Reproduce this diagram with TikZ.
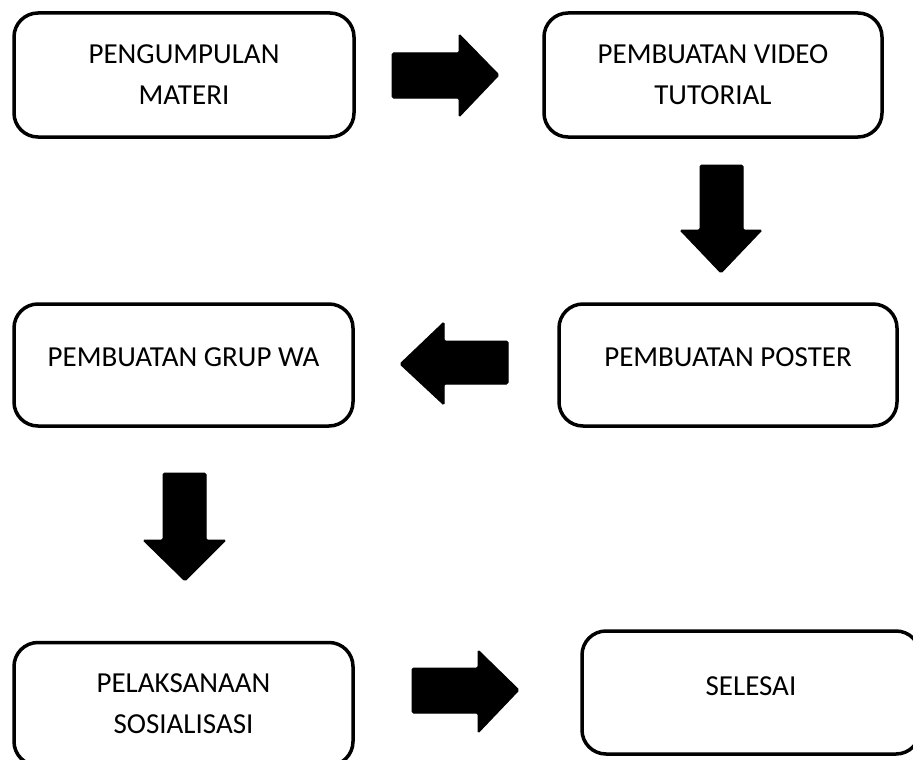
\documentclass[tikz,border=0pt]{standalone}
\usepackage{fontspec}
\setmainfont{Carlito}
\begin{document}
\begin{tikzpicture}[x=1pt,y=-1pt,
  box/.style={draw=black, line width=3.5pt, rounded corners=24pt, fill=white,
    align=center, inner sep=0pt, font=\fontsize{29}{41}\selectfont},
  blockarrow/.style={fill=black, draw=black, line width=1pt, rounded corners=1.5pt}]
\useasboundingbox (0,0) rectangle (913,760);
\node[box, minimum width=340pt, minimum height=124pt] (b1) at (184,75) {PENGUMPULAN\\MATERI};
\node[box, minimum width=338pt, minimum height=124pt] (b2) at (713,75) {PEMBUATAN VIDEO\\TUTORIAL};
\node[box, minimum width=339pt, minimum height=122pt, text height=19pt, text depth=16pt] (b3) at (183.5,365) {PEMBUATAN GRUP WA};
\node[box, minimum width=338pt, minimum height=122pt, text height=19pt, text depth=16pt] (b4) at (728,365) {PEMBUATAN POSTER};
\node[box, minimum width=339pt, minimum height=123pt] (b5) at (183.5,704) {PELAKSANAAN\\SOSIALISASI};
\node[box, minimum width=338pt, minimum height=123pt, text height=19pt, text depth=14pt] (b6) at (751,692.5) {SELESAI};
% block arrows
\fill[blockarrow] (392,53) -- (459,53) -- (459,34) -- (499,75) -- (459,117) -- (459,98) -- (392,98) -- cycle;
\fill[blockarrow] (700,165) -- (743,165) -- (743,230) -- (762,230) -- (721,273) -- (680,230) -- (700,230) -- cycle;
\fill[blockarrow] (508,341) -- (444,341) -- (444,322) -- (400,364) -- (444,405) -- (444,384) -- (508,384) -- cycle;
\fill[blockarrow] (163,473) -- (206,473) -- (206,540) -- (226,540) -- (185,581) -- (143,540) -- (163,540) -- cycle;
\fill[blockarrow] (412,668) -- (478,668) -- (478,650) -- (519,690) -- (478,733) -- (478,713) -- (412,713) -- cycle;
\end{tikzpicture}
\end{document}
